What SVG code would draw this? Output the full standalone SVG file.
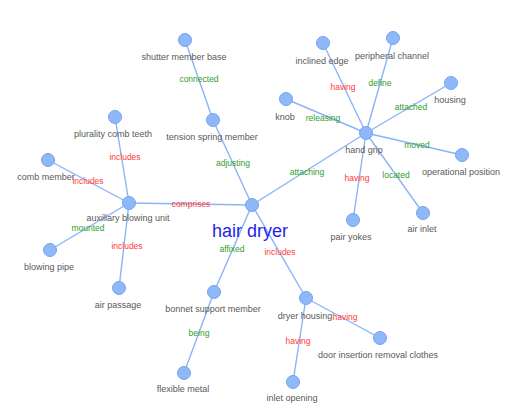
<svg xmlns="http://www.w3.org/2000/svg" width="521" height="420" viewBox="0 0 521 420">
<style>
.e{stroke:#8ab4f8;stroke-width:1.4;fill:none}
.n circle{fill:#8fb8f8;stroke:#74a3f0;stroke-width:1}
.n text{font-family:"Liberation Sans",Arial,sans-serif;font-size:9px;fill:#595959;text-anchor:middle}
.l{font-family:"Liberation Sans",Arial,sans-serif;font-size:8.5px;text-anchor:middle}
.r{fill:#ff3b3b}
.g{fill:#2ea02e}
.big{font-size:18px !important;fill:#1f1fe8 !important}
</style>
<rect width="521" height="420" fill="#fff"/>
<g id="connectors">
<line class="e" x1="252" y1="205" x2="213" y2="120"/>
<line class="e" x1="213" y1="120" x2="185" y2="40"/>
<line class="e" x1="252" y1="205" x2="129" y2="203"/>
<line class="e" x1="129" y1="203" x2="115" y2="117"/>
<line class="e" x1="129" y1="203" x2="48" y2="160"/>
<line class="e" x1="129" y1="203" x2="50" y2="250"/>
<line class="e" x1="129" y1="203" x2="119" y2="288"/>
<line class="e" x1="252" y1="205" x2="366" y2="133"/>
<line class="e" x1="366" y1="133" x2="323" y2="43"/>
<line class="e" x1="366" y1="133" x2="393" y2="38"/>
<line class="e" x1="366" y1="133" x2="451" y2="83"/>
<line class="e" x1="366" y1="133" x2="286" y2="99"/>
<line class="e" x1="366" y1="133" x2="462" y2="155"/>
<line class="e" x1="366" y1="133" x2="353" y2="220"/>
<line class="e" x1="366" y1="133" x2="423" y2="213"/>
<line class="e" x1="252" y1="205" x2="214" y2="292"/>
<line class="e" x1="214" y1="292" x2="184" y2="373"/>
<line class="e" x1="252" y1="205" x2="306" y2="298"/>
<line class="e" x1="306" y1="298" x2="380" y2="338"/>
<line class="e" x1="306" y1="298" x2="293" y2="382"/>
<text class="l g" x="199" y="82">connected</text>
<text class="l g" x="233" y="166">adjusting</text>
<text class="l r" x="125" y="160">includes</text>
<text class="l r" x="88" y="184">includes</text>
<text class="l r" x="191" y="207">comprises</text>
<text class="l g" x="88" y="231">mounted</text>
<text class="l r" x="127" y="249">includes</text>
<text class="l g" x="232" y="252">affixed</text>
<text class="l g" x="199" y="336">being</text>
<text class="l r" x="280" y="255">includes</text>
<text class="l r" x="345" y="320">having</text>
<text class="l r" x="298" y="344">having</text>
<text class="l r" x="343" y="90">having</text>
<text class="l g" x="380" y="86">define</text>
<text class="l g" x="411" y="110">attached</text>
<text class="l g" x="323" y="121">releasing</text>
<text class="l g" x="417" y="148">moved</text>
<text class="l g" x="307" y="175">attaching</text>
<text class="l r" x="357" y="181">having</text>
<text class="l g" x="396" y="178">located</text>
</g>
<g id="hair-dryer" class="n"><circle cx="252" cy="205" r="6.5"/><text class="big" x="250" y="237">hair dryer</text></g>
<g id="shutter-member-base" class="n"><circle cx="185" cy="40" r="6.5"/><text x="184" y="60">shutter member base</text></g>
<g id="tension-spring-member" class="n"><circle cx="213" cy="120" r="6.5"/><text x="212" y="140">tension spring member</text></g>
<g id="auxillary-blowing-unit" class="n"><circle cx="129" cy="203" r="6.5"/><text x="128" y="221">auxillary blowing unit</text></g>
<g id="plurality-comb-teeth" class="n"><circle cx="115" cy="117" r="6.5"/><text x="113" y="137">plurality comb teeth</text></g>
<g id="comb-member" class="n"><circle cx="48" cy="160" r="6.5"/><text x="46" y="180">comb member</text></g>
<g id="blowing-pipe" class="n"><circle cx="50" cy="250" r="6.5"/><text x="49" y="270">blowing pipe</text></g>
<g id="air-passage" class="n"><circle cx="119" cy="288" r="6.5"/><text x="118" y="308">air passage</text></g>
<g id="hand-grip" class="n"><circle cx="366" cy="133" r="6.5"/><text x="364" y="153">hand grip</text></g>
<g id="inclined-edge" class="n"><circle cx="323" cy="43" r="6.5"/><text x="322" y="64">inclined edge</text></g>
<g id="peripheral-channel" class="n"><circle cx="393" cy="38" r="6.5"/><text x="392" y="59">peripheral channel</text></g>
<g id="housing" class="n"><circle cx="451" cy="83" r="6.5"/><text x="450" y="103">housing</text></g>
<g id="knob" class="n"><circle cx="286" cy="99" r="6.5"/><text x="285" y="120">knob</text></g>
<g id="operational-position" class="n"><circle cx="462" cy="155" r="6.5"/><text x="461" y="175">operational position</text></g>
<g id="pair-yokes" class="n"><circle cx="353" cy="220" r="6.5"/><text x="351" y="240">pair yokes</text></g>
<g id="air-inlet" class="n"><circle cx="423" cy="213" r="6.5"/><text x="422" y="232">air inlet</text></g>
<g id="bonnet-support-member" class="n"><circle cx="214" cy="292" r="6.5"/><text x="213" y="312">bonnet support member</text></g>
<g id="flexible-metal" class="n"><circle cx="184" cy="373" r="6.5"/><text x="183" y="392">flexible metal</text></g>
<g id="dryer-housing" class="n"><circle cx="306" cy="298" r="6.5"/><text x="305" y="319">dryer housing</text></g>
<g id="door-insertion-removal-clothes" class="n"><circle cx="380" cy="338" r="6.5"/><text x="378" y="358">door insertion removal clothes</text></g>
<g id="inlet-opening" class="n"><circle cx="293" cy="382" r="6.5"/><text x="292" y="401">inlet opening</text></g>
</svg>
